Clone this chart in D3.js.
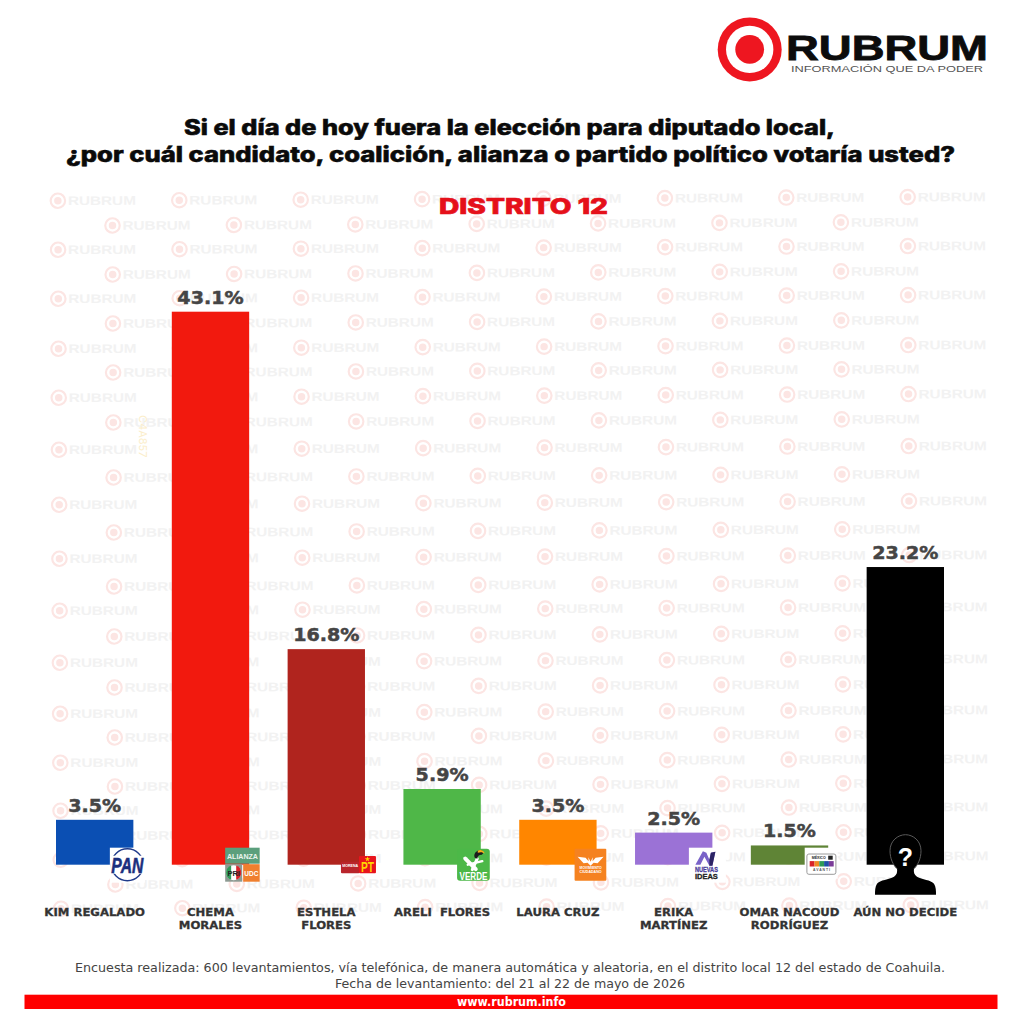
<!DOCTYPE html>
<html lang="es">
<head>
<meta charset="utf-8">
<title>Distrito 12</title>
<script src="https://cdn.jsdelivr.net/npm/d3@7/dist/d3.min.js"></script>
<style>
  html, body { margin: 0; padding: 0; background: #fff; }
  svg { display: block; }
</style>
</head>
<body>
<div id="chart"></div>
<script>
// Survey results
const candidates = ["KIM REGALADO", "CHEMA MORALES", "ESTHELA FLORES", "ARELI  FLORES", "LAURA CRUZ", "ERIKA MARTÍNEZ", "OMAR NACOUD RODRÍGUEZ", "AÚN NO DECIDE"];
const labelLines = [["KIM REGALADO"], ["CHEMA", "MORALES"], ["ESTHELA", "FLORES"], ["ARELI  FLORES"], ["LAURA CRUZ"], ["ERIKA", "MARTÍNEZ"], ["OMAR NACOUD", "RODRÍGUEZ"], ["AÚN NO DECIDE"]];
const shares = [3.5, 43.1, 16.8, 5.9, 3.5, 2.5, 1.5, 23.2];
const barColors = ["#0b4fb3", "#f2190e", "#b0241e", "#4fb748", "#ff8600", "#9b72d6", "#5f8436", "#000000"];

// Vertical position of each watermark row, left edge of the page
const stampRowsA = [201, 250, 299, 349, 398, 450, 505, 559, 611, 663, 714, 763, 811, 860, 909];
const stampRowsB = [226, 275, 324, 373, 423, 478, 533, 587, 637, 688, 738, 787, 836, 885];

const W = 1024, H = 1024;
const sans = "'Inter','Liberation Sans',sans-serif";
const wide = "'DejaVu Sans',sans-serif";

const svg = d3.select("#chart").append("svg")
  .attr("width", W).attr("height", H).attr("viewBox", [0, 0, W, H]);
svg.append("rect").attr("width", W).attr("height", H).attr("fill", "#fff");

// Text squeezed or stretched to an exact run width
function fitted(sel, width) {
  return sel.attr("textLength", width).attr("lengthAdjust", "spacingAndGlyphs");
}
// Widens a text by a factor of its natural length
function widened(sel, factor) {
  sel.each(function () {
    this.setAttribute("textLength", this.getComputedTextLength() * factor);
    this.setAttribute("lengthAdjust", "spacingAndGlyphs");
  });
  return sel;
}

// Bullseye emblem shared by the header and the watermark
function bullseye(g, cx, cy, r, color, hole) {
  g.append("circle").attr("cx", cx).attr("cy", cy).attr("r", r).attr("fill", color);
  g.append("circle").attr("cx", cx).attr("cy", cy).attr("r", r * 0.74).attr("fill", hole);
  g.append("circle").attr("cx", cx).attr("cy", cy).attr("r", r * 0.45).attr("fill", color);
}

// Watermark tiled behind the chart
const stampStep = 121.4;
const stamps = svg.append("g").attr("transform", "rotate(-0.25 0 0)");
function stampRow(rows, x0, count) {
  rows.forEach(y => d3.range(count).forEach(i => {
    const cx = x0 + i * stampStep;
    bullseye(stamps, cx, y, 8.3, "#fce5e3", "#fff");
    fitted(stamps.append("text").attr("x", cx + 10).attr("y", y + 4.4)
      .attr("font-family", "'Liberation Sans',sans-serif").attr("font-weight", 700)
      .attr("font-size", 12.5).attr("fill", "#f2f2f2").text("RUBRUM"), 68);
  }));
}
stampRow(stampRowsA, 57, 8);
stampRow(stampRowsB, 111.5, 7);

// Faint stray colour code printed beside the second bar
svg.append("text").attr("transform", "translate(139,415) rotate(90)")
  .attr("font-family", sans).attr("font-size", 11).attr("fill", "#fbeecb").text("C4A857");

// Header logo
const logo = svg.append("g");
bullseye(logo, 749.7, 49.4, 32, "#ee1620", "#fff");
fitted(logo.append("text").attr("x", 786).attr("y", 60)
  .attr("font-family", "'Liberation Sans',sans-serif").attr("font-weight", 700)
  .attr("font-size", 35).attr("fill", "#0c0c0c").attr("stroke", "#0c0c0c").attr("stroke-width", 0.8)
  .text("RUBRUM"), 202);
fitted(logo.append("text").attr("x", 791).attr("y", 71.5)
  .attr("font-family", "'Liberation Sans',sans-serif")
  .attr("font-size", 9.5).attr("fill", "#555").text("INFORMACIÓN QUE DA PODER"), 192);

// Question and district heading
const heading = svg.append("g").attr("font-family", sans).attr("font-weight", 800)
  .attr("fill", "#0a0a0a").attr("stroke", "#0a0a0a").attr("stroke-width", 0.55).attr("font-size", 21);
fitted(heading.append("text").attr("x", 184).attr("y", 135).text("Si el día de hoy fuera la elección para diputado local,"), 651);
fitted(heading.append("text").attr("x", 66).attr("y", 161.5).text("¿por cuál candidato, coalición, alianza o partido político votaría usted?"), 889);
fitted(svg.append("text").attr("x", 439).attr("y", 214)
  .attr("font-family", sans).attr("font-weight", 800).attr("font-size", 21)
  .attr("fill", "#e5101a").attr("stroke", "#e5101a").attr("stroke-width", 0.7).text("DISTRITO 12"), 169);

// Scales
const x = d3.scaleBand().domain(candidates).range([56, 944]).paddingInner(0.332).paddingOuter(0);
const y = d3.scaleLinear().domain([0, 43.1]).range([864.7, 311.7]);
const color = d3.scaleOrdinal().domain(candidates).range(barColors);
const rows = candidates.map((name, i) => ({ name, value: shares[i], lines: labelLines[i] }));

// Bars
svg.append("g").selectAll("rect").data(rows).join("rect")
  .attr("x", d => x(d.name))
  .attr("y", d => y(d.value))
  .attr("width", x.bandwidth())
  .attr("height", d => y(0) - y(d.value))
  .attr("fill", d => color(d.name));

// Value labels
widened(svg.append("g").selectAll("text").data(rows).join("text")
  .attr("x", d => x(d.name) + x.bandwidth() / 2)
  .attr("y", d => y(d.value) - 8)
  .attr("text-anchor", "middle")
  .attr("font-family", wide).attr("font-weight", 700).attr("font-size", 18)
  .attr("fill", "#454545").attr("stroke", "#454545").attr("stroke-width", 0.5)
  .text(d => d.value.toFixed(1) + "%"), 1.06);

// Category labels
const cats = svg.append("g").selectAll("g").data(rows).join("g")
  .attr("transform", d => `translate(${x(d.name) + x.bandwidth() / 2},916)`);
widened(cats.selectAll("text").data(d => d.lines).join("text")
  .attr("y", (d, i) => i * 13)
  .attr("text-anchor", "middle")
  .attr("xml:space", "preserve")
  .attr("font-family", wide).attr("font-weight", 700).attr("font-size", 11)
  .attr("fill", "#333").attr("stroke", "#333").attr("stroke-width", 0.3)
  .text(d => d), 1.06);

// Party badges, each drawn relative to the lower right corner of its bar
function anchor(i) {
  return svg.append("g").attr("transform", `translate(${x(candidates[i]) + x.bandwidth()},${y(0)})`);
}
function label(g, px, py, size, fill, str, weight, len, family) {
  const t = g.append("text").attr("x", px).attr("y", py).attr("text-anchor", "middle")
    .attr("font-family", family || "'Liberation Sans',sans-serif")
    .attr("font-weight", weight || 700).attr("font-size", size).attr("fill", fill).text(str);
  if (len) fitted(t, len);
  return t;
}

// PAN
(function () {
  const g = anchor(0);
  g.append("rect").attr("x", -23.5).attr("y", -17).attr("width", 35).attr("height", 35).attr("fill", "#fff");
  g.append("circle").attr("cx", -6).attr("cy", 0).attr("r", 16).attr("fill", "none")
    .attr("stroke", "#1f3a8a").attr("stroke-width", 1.4);
  g.append("rect").attr("x", -23).attr("y", -9).attr("width", 34).attr("height", 18).attr("fill", "#fff");
  label(g, -6, 8.3, 22, "#1b2f7d", "PAN", 700, 32)
    .attr("font-style", "italic").attr("stroke", "#1b2f7d").attr("stroke-width", 0.6);
})();

// Alianza PRI + UDC
(function () {
  const g = anchor(1);
  g.append("rect").attr("x", -24).attr("y", -17).attr("width", 34.5).attr("height", 16).attr("fill", "#5b9f7c");
  label(g, -6.7, -6, 8, "#eaf4ee", "ALIANZA", 700, 31);
  g.append("rect").attr("x", -24).attr("y", -0.5).attr("width", 17).attr("height", 17.5).attr("fill", "#8d9a92");
  g.append("circle").attr("cx", -15.5).attr("cy", 8).attr("r", 7.5).attr("fill", "#fff");
  g.append("path").attr("d", "M-18,0.9A7.5,7.5 0 0 0 -18,15.1Z").attr("fill", "#2f9a57");
  g.append("path").attr("d", "M-13,0.9A7.5,7.5 0 0 1 -13,15.1Z").attr("fill", "#d8232a");
  label(g, -15.5, 11, 7.5, "#222", "PRI");
  g.append("rect").attr("x", -6).attr("y", -0.5).attr("width", 16.5).attr("height", 17.5).attr("fill", "#f07f2e");
  label(g, 2.2, 11, 7.5, "#fff", "UDC", 700, 14);
})();

// Morena + PT
(function () {
  const g = anchor(2);
  g.append("rect").attr("x", -24).attr("y", -3).attr("width", 18.5).attr("height", 11.5).attr("rx", 1).attr("fill", "#b9252b");
  label(g, -14.8, 2, 3.6, "#fff", "MORENA");
  g.append("rect").attr("x", -6).attr("y", -8.7).attr("width", 17).attr("height", 17.2).attr("rx", 1).attr("fill", "#e8141c");
  g.append("path").attr("d", d3.symbol(d3.symbolStar, 9)()).attr("transform", "translate(2.5,-5.6)").attr("fill", "#ffd400");
  label(g, 2.5, 7.2, 14, "#ffd400", "PT", 700, 13);
})();

// Partido Verde
(function () {
  const g = anchor(3);
  g.append("rect").attr("x", -23.7).attr("y", -16).attr("width", 32.7).attr("height", 32).attr("rx", 3).attr("fill", "#4cb848");
  const mark = g.append("g").attr("fill", "none").attr("stroke", "#fff").attr("stroke-linecap", "round");
  mark.append("path").attr("d", "M-15.5,-6L-5,4.5").attr("stroke-width", 4);
  mark.append("path").attr("d", "M-13,0L1.5,-3.5").attr("stroke-width", 2.4);
  mark.append("path").attr("d", "M-8.5,5L-3.5,-6").attr("stroke-width", 3);
  g.append("path").attr("d", "M-6,-7C-8,-12 -3,-15 0,-14.5C3,-14 3,-11 1,-10C-2,-10 -3,-9 -3.5,-6Z").attr("fill", "#1c1c1c");
  g.append("path").attr("d", "M-3,-14C-1,-15.5 3,-15 4,-11C2,-12.5 0,-13 -3,-12Z").attr("fill", "#f6b21b");
  label(g, -7.3, 15, 10.5, "#fff", "VERDE", 700, 28);
})();

// Movimiento Ciudadano
(function () {
  const g = anchor(4);
  g.append("rect").attr("x", -22).attr("y", -16).attr("width", 31.7).attr("height", 32).attr("rx", 1).attr("fill", "#f58220");
  g.append("path").attr("d", "M-17,-8L-9,-7L-6,-3.5L-6.2,-7.5L-4,-3L-1.8,-7.5L-2,-3.5L1,-7L9,-8L3,-1.5L-1,-2L-4,1L-7,-2L-11,-1.5Z")
    .attr("transform", "translate(-2,0)").attr("fill", "#fff");
  label(g, -6, 4, 3.4, "#fff", "MOVIMIENTO", 700, 22);
  label(g, -6, 8, 3.4, "#fff", "CIUDADANO", 700, 22);
})();

// Nuevas Ideas
(function () {
  const g = anchor(5);
  g.append("rect").attr("x", -23.5).attr("y", -17).attr("width", 37).attr("height", 35).attr("fill", "#fff");
  g.append("path").attr("d", "M-17,0L-9.5,-13.5L-6,-12L-3,-5L-1.5,-12L3,-13L0,1L-3,1L-8,-8L-12,0Z").attr("fill", "#7a63c8");
  g.append("path").attr("d", "M-3,-5L-1.5,-12L3,-13L0,1L-3,1Z").attr("fill", "#2b2464");
  label(g, -6, 7.5, 7.4, "#4b3f9a", "NUEVAS", 700, 23).attr("stroke", "#4b3f9a").attr("stroke-width", 0.3);
  label(g, -6, 14, 7.4, "#222", "IDEAS", 700, 23).attr("stroke", "#222").attr("stroke-width", 0.3);
})();

// México Avanti
(function () {
  const g = anchor(6);
  g.append("rect").attr("x", -23.5).attr("y", -17).attr("width", 33).attr("height", 31).attr("fill", "#fff");
  g.append("rect").attr("x", -21.3).attr("y", -10.7).attr("width", 29).attr("height", 20.3).attr("rx", 2)
    .attr("fill", "#fff").attr("stroke", "#9a9a9a").attr("stroke-width", 1);
  label(g, -9.5, -5.4, 3.8, "#222", "MÉXICO", 700, 14);
  g.append("rect").attr("x", 0).attr("y", -9).attr("width", 4.5).attr("height", 4).attr("fill", "#222");
  ["#d8232a", "#f08a24", "#2f9a57", "#1f4fa8", "#7a3b98"].forEach((c, i) => {
    g.append("rect").attr("x", -18.5 + i * 4.8).attr("y", -3.6).attr("width", 4.8).attr("height", 5.4).attr("fill", c);
  });
  label(g, -6.8, 6.7, 3.6, "#555", "A V A N T I", 700, 17);
})();

// Undecided voter silhouette
(function () {
  const g = anchor(7);
  const head = "M-47,4C-51,0 -54,-6 -54,-14C-54,-24 -46,-30 -38.5,-30C-31,-30 -23,-24 -23,-14C-23,-6 -26,0 -30,4";
  g.append("path")
    .attr("d", head + "C-30.5,7 -30,10 -27,12C-22,15 -13,15 -10,19C-8,22 -8,26 -8,30L-69,30C-69,26 -69,22 -67,19C-64,15 -55,15 -50,12C-47,10 -46.5,7 -47,4Z")
    .attr("fill", "#000");
  g.append("path").attr("d", head).attr("fill", "none").attr("stroke", "#5a5a5a").attr("stroke-width", 1);
  label(g, -38.5, 1, 25, "#fff", "?");
})();

// Fieldwork note
const note = svg.append("g").attr("font-family", wide).attr("font-size", 12).attr("fill", "#444").attr("text-anchor", "start");
fitted(note.append("text").attr("x", 75).attr("y", 972)
  .text("Encuesta realizada: 600 levantamientos, vía telefónica, de manera automática y aleatoria, en el distrito local 12 del estado de Coahuila."), 870);
fitted(note.append("text").attr("x", 335).attr("y", 988)
  .text("Fecha de levantamiento: del 21 al 22 de mayo de 2026"), 350);

// Footer band
svg.append("rect").attr("x", 24.5).attr("y", 994.7).attr("width", 973).attr("height", 14.3).attr("fill", "#ff0000");
fitted(svg.append("text").attr("x", 457).attr("y", 1006.3)
  .attr("font-family", wide).attr("font-weight", 700).attr("font-size", 11.5).attr("fill", "#fff")
  .text("www.rubrum.info"), 109);
</script>
</body>
</html>
